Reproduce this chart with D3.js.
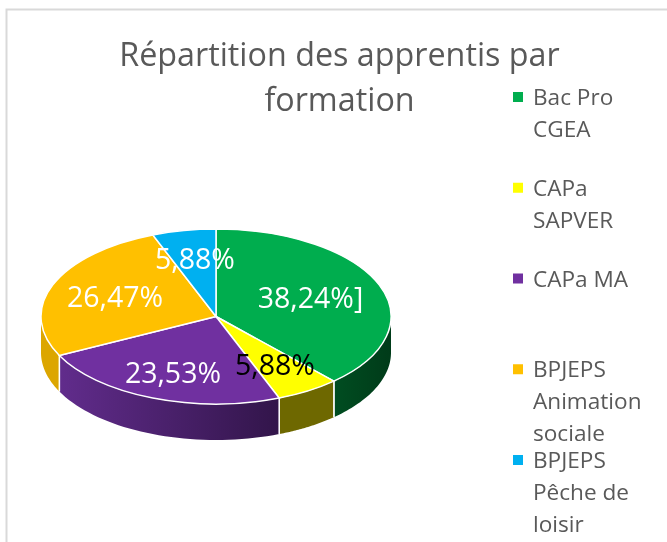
<!DOCTYPE html>
<html><head><meta charset="utf-8">
<script src="https://cdn.jsdelivr.net/npm/d3@7/dist/d3.min.js"></script>
<style>html,body{margin:0;padding:0;background:#fff}svg{display:block;filter:blur(0.45px)}text{font-family:"Open Sans",sans-serif}</style>
</head><body><svg id="c" width="667" height="542"></svg>
<script>
const titleLines = ["Répartition des apprentis par", "formation"];
const categories = ["Bac Pro CGEA", "CAPa SAPVER", "CAPa MA", "BPJEPS Animation sociale", "BPJEPS Pêche de loisir"];
const legendLines = [["Bac Pro","CGEA"],["CAPa","SAPVER"],["CAPa MA"],["BPJEPS","Animation","sociale"],["BPJEPS","Pêche de","loisir"]];
const values = [38.24, 5.88, 23.53, 26.47, 5.88];
const valueLabels = ["38,24%]", "5,88%", "23,53%", "26,47%", "5,88%"];
const colors = ["#00ad4e", "#ffff00", "#7030a0", "#ffc000", "#00b0f0"];
const labelColors = ["#fff", "#000", "#fff", "#fff", "#fff"];

const svg = d3.select("#c");
const cx = 216, cy = 316.5, rx = 175, ry = 87.5, depth = 36;
const sx = d3.scaleLinear().domain([-1, 1]).range([cx - rx, cx + rx]);
const sy = d3.scaleLinear().domain([-1, 1]).range([cy - ry, cy + ry]);

// frame
svg.append("path").attr("d", "M667,9.5H6.5V542").attr("fill", "none").attr("stroke", "#d9d9d9").attr("stroke-width", 2);

// gradients for the side walls
const defs = svg.append("defs");
const wallStops = [["#004d21","#003b19"],["#6e6800","#6e6800"],["#612c8c","#32154a"],["#dca600","#dca600"],["#00b0f0","#00b0f0"]];
wallStops.forEach((s, i) => {
  const g = defs.append("linearGradient").attr("id", "w" + i);
  g.append("stop").attr("offset", 0).attr("stop-color", s[0]);
  g.append("stop").attr("offset", 1).attr("stop-color", s[1]);
});

const pie = d3.pie().sort(null).value(d => d);
const arcs = pie(values);
const TAU = 2 * Math.PI;

// side walls: the visible (front) part of each slice's rim
const rim = d3.line().x(d => sx(Math.sin(d))).y(d => sy(-Math.cos(d)));
const wall = svg.append("g");
arcs.forEach((a, i) => {
  const a0 = Math.max(a.startAngle, TAU / 4), a1 = Math.min(a.endAngle, TAU * 3 / 4);
  if (a1 <= a0) return;
  const n = 40, pts = d3.range(n + 1).map(k => a0 + (a1 - a0) * k / n);
  const top = rim(pts);
  const bottomPts = pts.slice().reverse().map(t => [sx(Math.sin(t)), sy(-Math.cos(t)) + depth]);
  wall.append("path")
    .attr("d", top + "L" + bottomPts.map(p => p.join(",")).join("L") + "Z")
    .attr("fill", `url(#w${i})`);
  // white separators at the slice edges that face the viewer
  [a.startAngle, a.endAngle].forEach(t => {
    if (t > TAU / 4 + 0.01 && t < TAU * 3 / 4 - 0.01) {
      const x = sx(Math.sin(t)), y = sy(-Math.cos(t));
      wall.append("line").attr("x1", x).attr("x2", x).attr("y1", y).attr("y2", y + depth)
        .attr("stroke", "#fff").attr("stroke-width", 1.5);
    }
  });
});

// top face
const arc = d3.arc().innerRadius(0).outerRadius(rx);
svg.append("g").attr("transform", `translate(${cx},${cy}) scale(1,${ry / rx})`)
  .selectAll("path").data(arcs).join("path")
  .attr("d", arc).attr("fill", (d, i) => colors[i])
  .attr("stroke", "#fff").attr("stroke-width", 1.5)
  .attr("vector-effect", "non-scaling-stroke");

// data labels, placed in the pie's unit coordinates
const labelAnchors = [[0.54, -0.10], [0.337, 0.67], [-0.246, 0.76], [-0.577, -0.11], [-0.12, -0.54]];
svg.append("g").selectAll("text").data(valueLabels).join("text")
  .attr("x", (d, i) => sx(labelAnchors[i][0]))
  .attr("y", (d, i) => sy(labelAnchors[i][1]))
  .attr("text-anchor", "middle").attr("font-size", 28.5)
  .attr("fill", (d, i) => labelColors[i]).text(d => d);

// title
svg.append("g").selectAll("text").data(titleLines).join("text")
  .attr("x", 339.5).attr("y", (d, i) => 66 + i * 44.5)
  .attr("text-anchor", "middle").attr("font-size", 32.3).attr("fill", "#595959").text(d => d);

// legend
const legY = d3.scalePoint().domain(categories).range([97, 460]);
const leg = svg.append("g").selectAll("g").data(categories).join("g")
  .attr("transform", d => `translate(513,${legY(d)})`);
leg.append("rect").attr("y", -5).attr("width", 10).attr("height", 10).attr("fill", (d, i) => colors[i]);
leg.each(function (d, i) {
  d3.select(this).selectAll("text").data(legendLines[i]).join("text")
    .attr("x", 20).attr("y", (l, k) => 8 + k * 32)
    .attr("font-size", 22.6).attr("fill", "#595959").text(l => l);
});
</script></body></html>
